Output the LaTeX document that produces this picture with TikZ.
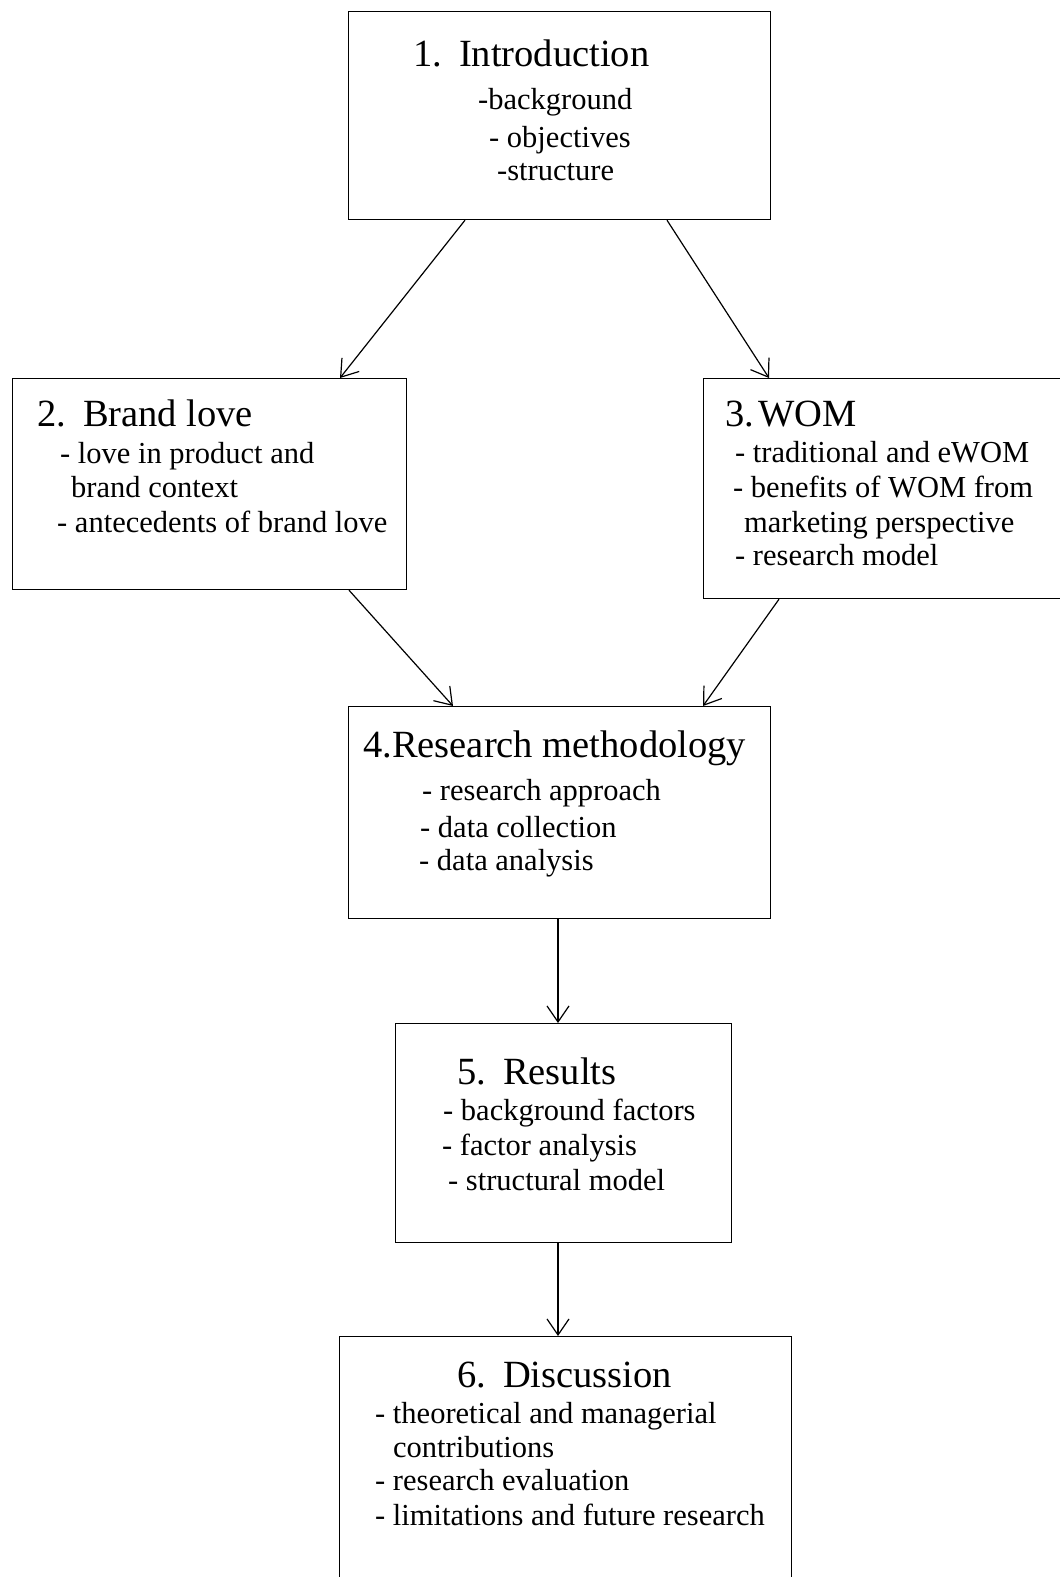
\documentclass[tikz,border=0pt]{standalone}
\usepackage{fontspec}
\setmainfont{Liberation Serif}
\usetikzlibrary{arrows.meta}

\begin{document}
\begin{tikzpicture}[x=1pt,y=-1pt,
    box/.style={draw,line width=1.2pt,inner sep=0pt,anchor=north west},
    head/.style={anchor=base west,inner sep=0pt,font=\fontsize{38.5}{46}\selectfont},
    item/.style={anchor=base west,inner sep=0pt,font=\fontsize{30.5}{36}\selectfont},
    arr/.style={line width=1.2pt,-{Straight Barb[length=16pt,width=22pt]}}]

  \useasboundingbox (0,0) rectangle (1060,1577);
  \clip (0,0) rectangle (1060,1577);

  % boxes
  \node[box,minimum width=422pt,minimum height=208pt] (intro) at (348,11) {};
  \node[box,minimum width=394pt,minimum height=211pt] (brand) at (12,378) {};
  \node[box,minimum width=380pt,minimum height=220pt] (wom) at (703,378) {};
  \node[box,minimum width=422pt,minimum height=212pt] (method) at (348,706) {};
  \node[box,minimum width=336pt,minimum height=219pt] (results) at (395,1023) {};
  \node[box,minimum width=452pt,minimum height=300pt] (disc) at (339,1336) {};

  % 1
  \node[head] (intro-t) at (413,66) {1.\hspace{17pt}Introduction};
  \node[item] (intro-1) at (478,109) {-background};
  \node[item] (intro-2) at (489,147) {- objectives};
  \node[item] (intro-3) at (497,180) {-structure};

  % 2
  \node[head] (brand-t) at (37,426) {2.\hspace{17pt}Brand love};
  \node[item] (brand-1) at (60,463) {- love in product and};
  \node[item] (brand-2) at (71,497) {brand context};
  \node[item] (brand-3) at (57,532) {- antecedents of brand love};

  % 3
  \node[head] (wom-t) at (725,426) {3.\hspace{4pt}WOM};
  \node[item] (wom-1) at (735,462) {- traditional and eWOM};
  \node[item] (wom-2) at (733,497) {- benefits of WOM from};
  \node[item] (wom-3) at (744,532) {marketing perspective};
  \node[item] (wom-4) at (735,565) {- research model};

  % 4
  \node[head] (method-t) at (363,757) {4.Research methodology};
  \node[item] (method-1) at (422,800) {- research approach};
  \node[item] (method-2) at (420,837) {- data collection};
  \node[item] (method-3) at (419,870) {- data analysis};

  % 5
  \node[head] (results-t) at (457,1084) {5.\hspace{17pt}Results};
  \node[item] (results-1) at (443,1120) {- background factors};
  \node[item] (results-2) at (442,1155) {- factor analysis};
  \node[item] (results-3) at (448,1190) {- structural model};

  % 6
  \node[head] (disc-t) at (457,1387) {6.\hspace{17pt}Discussion};
  \node[item] (disc-1) at (375,1423) {- theoretical and managerial};
  \node[item] (disc-2) at (393,1457) {contributions};
  \node[item] (disc-3) at (375,1490) {- research evaluation};
  \node[item] (disc-4) at (375,1525) {- limitations and future research};

  % arrows
  \draw[arr] ([xshift=117pt]intro.south west) -- ([xshift=328pt]brand.north west);
  \draw[arr] ([xshift=319pt]intro.south west) -- ([xshift=66pt]wom.north west);
  \draw[arr] ([xshift=337pt]brand.south west) -- ([xshift=105pt]method.north west);
  \draw[arr] ([xshift=76pt]wom.south west) -- ([xshift=355pt]method.north west);
  \draw[arr] ([xshift=210pt]method.south west) -- ([xshift=163pt]results.north west);
  \draw[arr] ([xshift=163pt]results.south west) -- ([xshift=219pt]disc.north west);
\end{tikzpicture}
\end{document}
